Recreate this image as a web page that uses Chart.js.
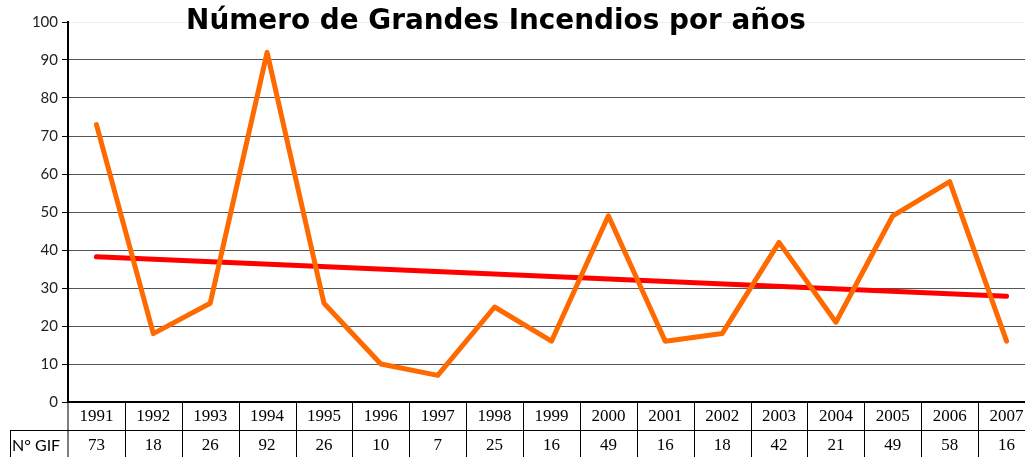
<!DOCTYPE html>
<html><head><meta charset="utf-8">
<script src="https://cdn.jsdelivr.net/npm/chart.js@4/dist/chart.umd.min.js"></script>
<style>html,body{margin:0;padding:0;background:#fff;overflow:hidden}#wrap{width:1035px;height:457px}</style>
</head><body><div id="wrap"><canvas id="c" width="1035" height="457"></canvas></div>
<script>
const years = ['1991','1992','1993','1994','1995','1996','1997','1998','1999','2000','2001','2002','2003','2004','2005','2006','2007'];
const gif = [73,18,26,92,26,10,7,25,16,49,16,18,42,21,49,58,16];
const trend = [38.2,null,null,null,null,null,null,null,null,null,null,null,null,null,null,null,27.8];
const yTicks = [0,10,20,30,40,50,60,70,80,90,100];
const titleText = 'Número de Grandes Incendios por años';
const rowLabel = 'N° GIF';

const tablePlugin = {
  id:'tbl',
  afterDraw(chart){
    const ctx = chart.ctx, x = chart.scales.x, a = chart.chartArea;
    const top = a.bottom, mid = 430, bot = 457;
    ctx.save();
    // title
    ctx.fillStyle = '#000';
    let fs = 28;
    ctx.font = 'bold ' + fs + 'px "DejaVu Sans", sans-serif';
    const w = ctx.measureText(titleText).width;
    fs = fs * 620 / w;
    ctx.font = 'bold ' + fs.toFixed(2) + 'px "DejaVu Sans", sans-serif';
    ctx.textAlign = 'center'; ctx.textBaseline = 'alphabetic';
    ctx.fillText(titleText, 496, 29);
    // table lines
    ctx.strokeStyle = '#000'; ctx.lineWidth = 1;
    const step = (a.right - a.left) / years.length;
    ctx.beginPath();
    ctx.moveTo(10, mid+0.5); ctx.lineTo(a.right, mid+0.5);
    ctx.moveTo(10.5, mid); ctx.lineTo(10.5, bot);
    ctx.moveTo(a.left, top); ctx.lineTo(a.left, bot);
    for (let i=1;i<=years.length;i++){
      const px = Math.round(a.left + i*step)+0.5;
      ctx.moveTo(px, top); ctx.lineTo(px, bot);
    }
    ctx.stroke();
    ctx.textBaseline = 'middle';
    ctx.font = '17px "Liberation Serif", "DejaVu Serif", serif';
    ctx.fillStyle = '#000';
    years.forEach((yr,i)=>{
      const cx = x.getPixelForValue(i);
      ctx.fillText(yr, cx, (top+mid)/2+1);
      ctx.fillText(String(gif[i]), cx, (mid+bot)/2+2);
    });
    ctx.font = '16px "Lato", "DejaVu Sans", sans-serif';
    ctx.textAlign = 'left';
    ctx.fillText(rowLabel, 12, (mid+bot)/2+2);
    ctx.restore();
  }
};

new Chart(document.getElementById('c'), {
  type:'line',
  data:{ labels: years, datasets:[
    {data: gif, borderColor:'#FF6A00', borderWidth:5, pointRadius:0, tension:0, borderJoinStyle:'round', borderCapStyle:'round'},
    {data: trend, borderColor:'#FF0000', borderWidth:5, pointRadius:0, spanGaps:true, borderCapStyle:'round'}
  ]},
  options:{
    responsive:false, animation:false,
    layout:{padding:{top:22, right:0, bottom:55, left:0}},
    plugins:{legend:{display:false}, title:{display:false}, tooltip:{enabled:false}},
    scales:{
      x:{ offset:true, ticks:{display:false}, grid:{display:false, drawTicks:false}, border:{display:true, color:'#000', width:2} },
      y:{ min:0, max:100, afterBuildTicks(s){ s.ticks = yTicks.map(v=>({value:v})); },
        afterFit(s){ s.width = 68; },
        ticks:{ color:'#222', font:{size:15, family:'"Lato", "DejaVu Sans", sans-serif'}, padding:4 },
        grid:{ color:(c)=> c.tick && c.tick.value===100 ? '#eeeeee' : '#555', lineWidth:1, tickLength:6, tickColor:'#000' },
        border:{ color:'#000', width:2 } }
    }
  },
  plugins:[tablePlugin]
});
</script></body></html>
